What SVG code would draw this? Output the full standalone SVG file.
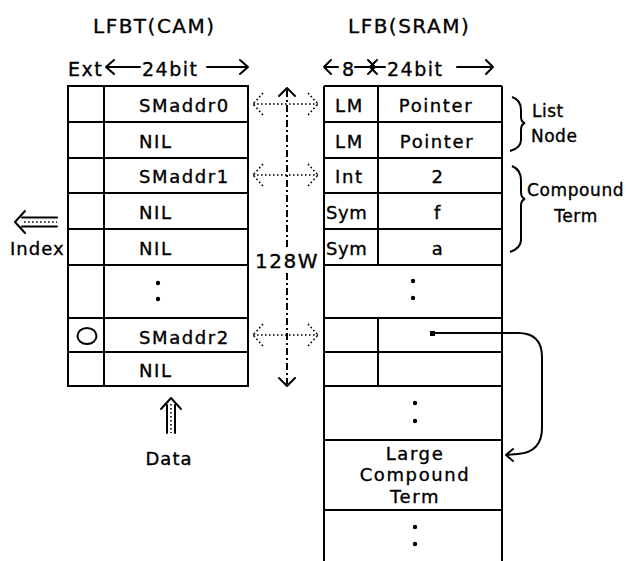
<svg xmlns="http://www.w3.org/2000/svg" width="626" height="561" viewBox="0 0 626 561">
<style>
text{font-family:"DejaVu Sans","Liberation Sans",sans-serif;fill:#000;stroke:#000;stroke-width:0.35}
.h{font-size:20px;letter-spacing:1.5px}
.t{font-size:18px;letter-spacing:1.6px}
.c{text-anchor:middle}
.ln{stroke:#000;stroke-width:2;fill:none}
.dot{stroke:#000;stroke-width:1.6;fill:none;stroke-dasharray:1.6 2.4}
.dash{stroke:#000;stroke-width:2;fill:none;stroke-dasharray:7 3 2 3}
.arr{stroke:#000;stroke-width:2;fill:none;stroke-linecap:round;stroke-linejoin:round}
</style>
<rect width="626" height="561" fill="#fff"/>
<g id="headers">
<text class="h" x="93" y="33">LFBT(CAM)</text>
<text class="h" x="348" y="33">LFB(SRAM)</text>
<text class="h" x="68" y="76" style="font-size:19px">Ext</text>
<text class="h" x="142" y="76" style="font-size:19px">24bit</text>
<text class="h" x="342" y="76" style="font-size:19px">8</text>
<text class="h" x="387" y="76" style="font-size:19px">24bit</text>
</g>
<g id="width-arrows" class="arr">
<path d="M106,67 H140 M114,60 L106,67 L114,74"/>
<path d="M207,67 H248 M240,60 L248,67 L240,74"/>
<path d="M324,67 H338 M331,60 L324,67 L331,74"/>
<path d="M355,67 H375 M368,60 L375,67 L368,74"/>
<path d="M370,67 H385 M377,60 L370,67 L377,74"/>
<path d="M457,67 H493 M486,60 L493,67 L486,74"/>
</g>
<g id="lfbt">
<rect class="ln" x="68" y="86" width="180" height="300"/>
<path class="ln" d="M104,86 V386 M68,122 H248 M68,158 H248 M68,193 H248 M68,229 H248 M68,265 H248 M68,318 H248 M68,352 H248"/>
<text class="t" x="139" y="112">SMaddr0</text>
<text class="t" x="139" y="148">NIL</text>
<text class="t" x="139" y="183">SMaddr1</text>
<text class="t" x="139" y="219">NIL</text>
<text class="t" x="139" y="255">NIL</text>
<circle cx="158" cy="283" r="2.2"/>
<circle cx="158" cy="299" r="2.2"/>
<ellipse class="ln" cx="87" cy="336" rx="9.5" ry="8"/>
<text class="t" x="139" y="344">SMaddr2</text>
<text class="t" x="139" y="377">NIL</text>
</g>
<g id="lfb">
<path class="ln" d="M324,86 H502 M324,86 V561 M502,86 V561"/>
<path class="ln" d="M378,86 V265 M378,318 V386 M324,122 H502 M324,158 H502 M324,193 H502 M324,229 H502 M324,265 H502 M324,318 H502 M324,352 H502 M324,386 H502 M324,440 H502 M324,510 H502"/>
<text class="t" x="335" y="112">LM</text>
<text class="t c" x="436" y="112">Pointer</text>
<text class="t" x="335" y="148">LM</text>
<text class="t c" x="437" y="148">Pointer</text>
<text class="t" x="335" y="183">Int</text>
<text class="t c" x="438" y="183">2</text>
<text class="t" x="326" y="219" style="letter-spacing:0.6px">Sym</text>
<text class="t c" x="438" y="219">f</text>
<text class="t" x="326" y="255" style="letter-spacing:0.6px">Sym</text>
<text class="t c" x="438" y="255">a</text>
<circle cx="413" cy="281" r="2.2"/>
<circle cx="413" cy="298" r="2.2"/>
<rect x="430" y="331" width="5" height="5"/>
<circle cx="415" cy="403" r="2.2"/>
<circle cx="415" cy="421" r="2.2"/>
<text class="t c" x="415" y="460">Large</text>
<text class="t c" x="415" y="481">Compound</text>
<text class="t c" x="415" y="503">Term</text>
<circle cx="415" cy="527" r="2.2"/>
<circle cx="415" cy="544" r="2.2"/>
</g>
<g id="braces">
<path class="ln" d="M512,97 Q521,100 521,110 L521,117 Q521,122 525,123 Q521,124 521,130 L521,140 Q521,148 510,151"/>
<text class="t" x="532" y="117" style="font-size:17px;letter-spacing:0.5px">List</text>
<text class="t" x="531" y="142" style="font-size:17px;letter-spacing:0.5px">Node</text>
<path class="ln" d="M512,166 Q521,170 521,180 L521,192 Q521,198 525,199 Q521,200 521,206 L521,240 Q521,248 510,252"/>
<text class="t" x="527" y="196" style="font-size:17px;letter-spacing:0.6px">Compound</text>
<text class="t c" x="576" y="222" style="font-size:17px;letter-spacing:0.6px">Term</text>
</g>
<g id="labels">
<text class="t" x="10" y="255" style="letter-spacing:1px">Index</text>
<text class="h" x="255" y="268">128W</text>
<text class="t c" x="169" y="465" style="letter-spacing:1px">Data</text>
</g>
<g id="connectors">
<path class="dot" d="M253,104 H318 M263,93 L253,104 L263,115 M308,93 L318,104 L308,115"/>
<path class="dot" d="M253,175 H318 M263,164 L253,175 L263,186 M308,164 L318,175 L308,186"/>
<path class="dot" d="M253,335 H318 M263,324 L253,335 L263,346 M308,324 L318,335 L308,346"/>
<path class="dash" d="M287,90 V248 M287,273 V384"/>
<path class="arr" d="M279,96 L287,88 L295,96 M279,378 L287,386 L295,378"/>
<path class="ln" d="M435,333 H518 Q542,333 542,357 V428 Q542,452 518,454 L506,455"/>
<path class="arr" d="M513,449 L506,455 L513,461"/>
<path class="arr" d="M22,217.5 H57 M22,226.5 H57 M25,211 L15,222 L25,233"/>
<path class="dot" d="M24,222 H57"/>
<path class="arr" d="M167,405 V433 M175,405 V433 M161,409 L171,398 L181,409"/>
<path class="dot" d="M171,404 V433"/>
</g>
</svg>
